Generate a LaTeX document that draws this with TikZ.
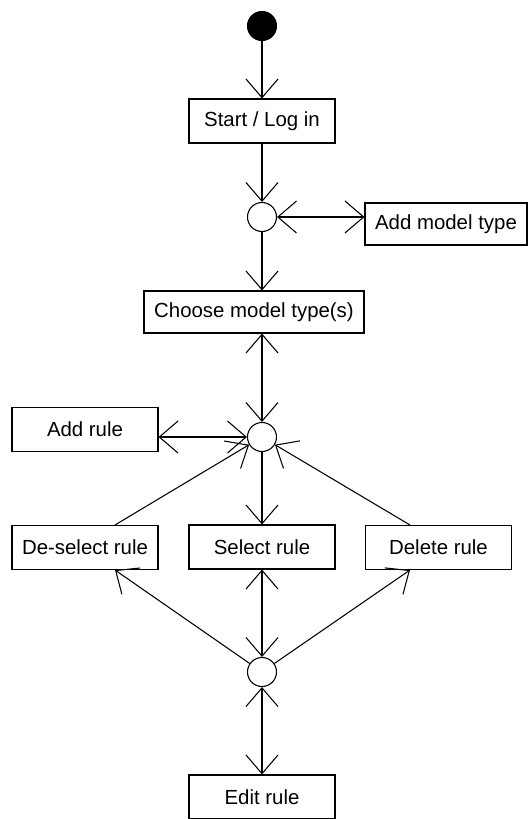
\documentclass[tikz,border=0pt]{standalone}
\usepackage{fontspec}
\setmainfont{Liberation Sans}
\usetikzlibrary{arrows.meta}

\begin{document}
\begin{tikzpicture}[x=0.75pt,y=-0.75pt,line width=0.8pt,
    >={Straight Barb[length=14pt,width=24pt]},
    font=\fontsize{15.3}{18}\selectfont]

      \useasboundingbox (0,0) rectangle (532,819);

      \begin{scope}[every node/.style={circle,draw,minimum size=21.75pt,inner sep=0pt}]
        \node[fill=black] (init) at (262,26) {};
        \node (m1) at (262,217) {};
        \node (m2) at (262,437) {};
        \node (m3) at (262,672) {};
      \end{scope}

      \begin{scope}[every node/.style={rectangle,draw,minimum width=109.5pt,minimum height=33pt,inner sep=2pt}]
        \node (login)   at (262,121)   {Start / Log in};
        \node[minimum width=121.5pt,minimum height=31.5pt] (addtype) at (446,224) {Add model type};
        \node[minimum width=165pt,minimum height=31.5pt] (choose) at (254,312) {Choose model type(s)};
        \node (addrule) at (85,429.5)  {Add rule};
        \node (desel)   at (85,547.5)  {De-select rule};
        \node (select)  at (262,547)   {Select rule};
        \node (delete)  at (438.5,547.5) {Delete rule};
        \node (edit)    at (262,797)   {Edit rule};
      \end{scope}

      \begin{scope}[every edge/.style={draw}]
        \path (init)  edge[->] (login);
        \path (login) edge[->] (m1);
        \path (m1)    edge[<->] (m1 -| addtype.west);
        \path (m1)    edge[->] (m1 |- choose.north);
        \path (m2 |- choose.south) edge[<->] (m2);
        \path (m2)    edge[<->] (m2 -| addrule.east);
        \path (m2)    edge[->] (select);
        \path ([xshift=22.5pt]desel.north)  edge[->] (m2);
        \path ([xshift=-21.4pt]delete.north) edge[->] (m2);
        \path (m3)    edge[->] ([xshift=22.5pt]desel.south);
        \path (m3)    edge[<->] (select);
        \path (m3)    edge[->] ([xshift=-21.4pt]delete.south);
        \path (m3)    edge[<->] (edit);
      \end{scope}

    \end{tikzpicture}
\end{document}
